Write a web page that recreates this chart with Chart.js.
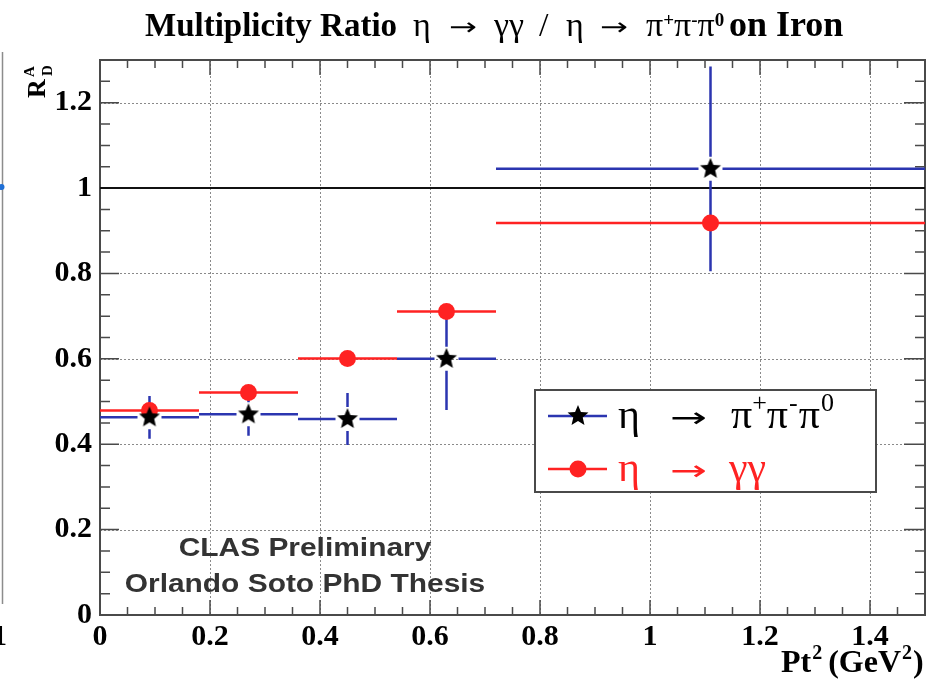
<!DOCTYPE html>
<html>
<head>
<meta charset="utf-8">
<script src="https://cdn.jsdelivr.net/npm/chart.js@4/dist/chart.umd.min.js"></script>
<style>
  html, body { margin: 0; padding: 0; background: #fff; }
  canvas { display: block; }
</style>
</head>
<body>
<canvas id="chart" width="933" height="683"></canvas>
<script>
// Pt^2 bins (GeV^2)
const binLow    = [0.00, 0.18, 0.36, 0.54, 0.72];
const binHigh   = [0.18, 0.36, 0.54, 0.72, 1.50];
const binCenter = [0.09, 0.27, 0.45, 0.63, 1.11];

// R_D^A for eta -> pi+ pi- pi0 (with statistical errors)
const ratio3pi = [0.463, 0.470, 0.459, 0.600, 1.045];
const err3pi   = [0.050, 0.050, 0.061, 0.120, 0.240];

// R_D^A for eta -> gamma gamma
const ratioGG  = [0.479, 0.521, 0.601, 0.711, 0.918];

// axis ticks
const xTickValues = [0, 0.2, 0.4, 0.6, 0.8, 1.0, 1.2, 1.4];
const xTickLabels = ['0', '0.2', '0.4', '0.6', '0.8', '1', '1.2', '1.4'];
const yTickValues = [0, 0.2, 0.4, 0.6, 0.8, 1.0, 1.2];
const yTickLabels = ['0', '0.2', '0.4', '0.6', '0.8', '1', '1.2'];

const BLUE = '#2b35b0';
const RED = '#ff2222';
const FRAME = '#4a4a4a';
const SERIF = '"Liberation Serif", "DejaVu Serif", serif';
const SANS = '"Liberation Sans", Arial, sans-serif';
const ARROW = '"DejaVu Sans", sans-serif';

// filled five-point star marker
function makeStar(r, color) {
  const s = Math.ceil(r * 2 + 4);
  const c = document.createElement('canvas');
  c.width = s; c.height = s;
  const g = c.getContext('2d');
  g.translate(s / 2, s / 2);
  g.beginPath();
  for (let i = 0; i < 10; i++) {
    const rr = i % 2 ? r * 0.45 : r;
    const a = -Math.PI / 2 + i * Math.PI / 5;
    g.lineTo(rr * Math.cos(a), rr * Math.sin(a));
  }
  g.closePath();
  g.fillStyle = color;
  g.fill();
  return c;
}
const starMarker = makeStar(11, '#000');

// draw a run of text pieces; a piece without x follows the previous one,
// a piece with w is stretched horizontally to that width
function drawPieces(ctx, baseY, pieces, color) {
  ctx.textAlign = 'left';
  ctx.textBaseline = 'alphabetic';
  let cur = 0;
  for (const p of pieces) {
    ctx.font = p.font;
    ctx.fillStyle = p.color || color;
    const x = (p.x !== undefined ? p.x : cur) + (p.dx || 0);
    const natural = ctx.measureText(p.t).width;
    if (p.w) {
      ctx.save();
      ctx.translate(x, baseY + (p.dy || 0));
      ctx.scale(p.w / natural, 1);
      ctx.fillText(p.t, 0, 0);
      ctx.restore();
      cur = x + p.w;
    } else {
      ctx.fillText(p.t, x, baseY + (p.dy || 0));
      cur = x + natural;
    }
  }
}

const framePlugin = {
  id: 'frameAndBars',
  beforeDatasetsDraw(chart) {
    const ctx = chart.ctx;
    const xs = chart.scales.x, ys = chart.scales.y;
    const a = chart.chartArea;
    ctx.save();

    // dotted grid at major ticks
    ctx.strokeStyle = '#8a8a8a';
    ctx.lineWidth = 1;
    ctx.setLineDash([2, 2]);
    for (const v of xTickValues) {
      const px = Math.round(xs.getPixelForValue(v)) + 0.5;
      if (px <= a.left + 1) continue;
      ctx.beginPath(); ctx.moveTo(px, a.top); ctx.lineTo(px, a.bottom); ctx.stroke();
    }
    for (const v of yTickValues) {
      const py = Math.round(ys.getPixelForValue(v)) + 0.5;
      if (py >= a.bottom - 1) continue;
      ctx.beginPath(); ctx.moveTo(a.left, py); ctx.lineTo(a.right, py); ctx.stroke();
    }
    ctx.setLineDash([]);

    // tick marks on all four sides (major every 0.2, minor every 0.05)
    ctx.strokeStyle = FRAME;
    ctx.lineWidth = 1.5;
    for (let k = 0; k <= 30; k++) {
      const v = k * 0.05;
      const major = k % 4 === 0;
      const px = xs.getPixelForValue(v);
      const L = major ? 15 : 8;
      ctx.beginPath();
      ctx.moveTo(px, a.bottom); ctx.lineTo(px, a.bottom - L);
      ctx.moveTo(px, a.top); ctx.lineTo(px, a.top + L);
      ctx.stroke();
    }
    for (let k = 0; k <= 26; k++) {
      const v = k * 0.05;
      const major = k % 4 === 0;
      const py = ys.getPixelForValue(v);
      ctx.beginPath();
      ctx.moveTo(a.left, py); ctx.lineTo(a.left + (major ? 19 : 10), py);
      ctx.moveTo(a.right, py); ctx.lineTo(a.right - (major ? 21 : 10), py);
      ctx.stroke();
    }

    // frame
    ctx.lineWidth = 2;
    ctx.strokeRect(a.left, a.top, a.right - a.left, a.bottom - a.top);

    // unity reference line
    const y1 = ys.getPixelForValue(1);
    ctx.strokeStyle = '#111';
    ctx.lineWidth = 2;
    ctx.beginPath(); ctx.moveTo(a.left, y1); ctx.lineTo(a.right, y1); ctx.stroke();

    // eta -> 3pi bars: bin width and error, open around the marker
    const gap = 12;
    ctx.strokeStyle = BLUE;
    ctx.lineWidth = 2.5;
    for (let i = 0; i < binCenter.length; i++) {
      const cx = xs.getPixelForValue(binCenter[i]);
      const cy = ys.getPixelForValue(ratio3pi[i]);
      const xl = xs.getPixelForValue(binLow[i]);
      const xh = xs.getPixelForValue(binHigh[i]);
      const yt = ys.getPixelForValue(ratio3pi[i] + err3pi[i]);
      const yb = ys.getPixelForValue(ratio3pi[i] - err3pi[i]);
      ctx.beginPath();
      ctx.moveTo(xl, cy); ctx.lineTo(cx - gap, cy);
      ctx.moveTo(cx + gap, cy); ctx.lineTo(xh, cy);
      if (cy - gap > yt) { ctx.moveTo(cx, yt); ctx.lineTo(cx, cy - gap); }
      if (cy + gap < yb) { ctx.moveTo(cx, cy + gap); ctx.lineTo(cx, yb); }
      ctx.stroke();
    }

    // eta -> gamma gamma bars: bin width
    ctx.strokeStyle = RED;
    ctx.lineWidth = 2.5;
    for (let i = 0; i < binCenter.length; i++) {
      const cy = ys.getPixelForValue(ratioGG[i]);
      ctx.beginPath();
      ctx.moveTo(xs.getPixelForValue(binLow[i]), cy);
      ctx.lineTo(xs.getPixelForValue(binHigh[i]), cy);
      ctx.stroke();
    }
    ctx.restore();
  },
  afterDatasetsDraw(chart) {
    const ctx = chart.ctx;
    ctx.save();

    // legend box
    const bx = 535, by = 390, bw = 341, bh = 102;
    ctx.fillStyle = '#fff';
    ctx.fillRect(bx, by, bw, bh);
    ctx.strokeStyle = FRAME;
    ctx.lineWidth = 2;
    ctx.strokeRect(bx, by, bw, bh);

    const r1 = 416, r2 = 469;
    ctx.lineWidth = 2.5;
    ctx.strokeStyle = BLUE;
    ctx.beginPath(); ctx.moveTo(548, r1); ctx.lineTo(607, r1); ctx.stroke();
    ctx.drawImage(starMarker, 578 - starMarker.width / 2, r1 - starMarker.height / 2);
    ctx.strokeStyle = RED;
    ctx.beginPath(); ctx.moveTo(548, r2); ctx.lineTo(607, r2); ctx.stroke();
    ctx.fillStyle = RED;
    ctx.beginPath(); ctx.arc(578, r2, 8.5, 0, Math.PI * 2); ctx.fill();

    const gf = '42px ' + SERIF, af = '28px ' + ARROW, sf = '26px ' + SERIF;
    drawPieces(ctx, r1 + 12, [
      { t: '\u03B7', x: 618, font: gf },
      { t: '\u2192', x: 670, font: af, w: 37, dy: -1 },
      { t: '\u03C0', x: 731, font: gf },
      { t: '+', font: sf, dy: -17 },
      { t: '\u03C0', font: gf },
      { t: '-', font: sf, dy: -17, dx: 1 },
      { t: '\u03C0', font: gf, dx: 1 },
      { t: '0', font: sf, dy: -17, dx: 1 }
    ], '#000');
    drawPieces(ctx, r2 + 12, [
      { t: '\u03B7', x: 618, font: gf },
      { t: '\u2192', x: 670, font: af, w: 37, dy: -1 },
      { t: '\u03B3\u03B3', x: 729, font: gf }
    ], RED);

    // preliminary label
    ctx.fillStyle = '#333';
    ctx.font = 'bold 26px ' + SANS;
    ctx.textAlign = 'center';
    ctx.textBaseline = 'alphabetic';
    ctx.save(); ctx.translate(305, 556); ctx.scale(1.15, 1); ctx.fillText('CLAS Preliminary', 0, 0); ctx.restore();
    ctx.save(); ctx.translate(305, 592); ctx.scale(1.15, 1); ctx.fillText('Orlando Soto PhD Thesis', 0, 0); ctx.restore();

    ctx.restore();
  },
  afterDraw(chart) {
    const ctx = chart.ctx;
    ctx.save();

    // title
    const tb = 'bold 33px ' + SERIF, tg = '34px ' + SERIF, ta = '24px ' + ARROW, ts = 'bold 19px ' + SERIF;
    drawPieces(ctx, 36, [
      { t: 'Multiplicity Ratio', x: 145, font: tb },
      { t: '\u03B7', x: 413, font: tg },
      { t: '\u2192', x: 449, font: ta, w: 28, dy: -1 },
      { t: '\u03B3\u03B3', x: 494, font: tg },
      { t: '/', x: 539, font: tg },
      { t: '\u03B7', x: 566, font: tg },
      { t: '\u2192', x: 600, font: ta, w: 28, dy: -1 },
      { t: '\u03C0', x: 646, font: tg },
      { t: '+', font: ts, dy: -10 },
      { t: '\u03C0', font: tg },
      { t: '-', font: ts, dy: -10 },
      { t: '\u03C0', font: tg },
      { t: '0', font: ts, dy: -10 },
      { t: 'on Iron', x: 729, font: 'bold 36px ' + SERIF }
    ], '#000');

    // x axis title
    const xb = 'bold 32px ' + SERIF, xsup = 'bold 20px ' + SERIF;
    drawPieces(ctx, 672, [
      { t: 'Pt', x: 781, font: xb },
      { t: '2', font: xsup, dy: -13, dx: 1 },
      { t: '(GeV', font: xb, dx: 6 },
      { t: '2', font: xsup, dy: -13, dx: 1 },
      { t: ')', font: xb, dx: 1 }
    ], '#000');

    // y axis title R_D^A, rotated
    ctx.save();
    ctx.translate(45, 98);
    ctx.rotate(-Math.PI / 2);
    drawPieces(ctx, 0, [
      { t: 'R', x: 0, font: 'bold 26px ' + SERIF },
      { t: 'A', x: 21, font: 'bold 15px ' + SERIF, dy: -11 },
      { t: 'D', x: 22, font: 'bold 15px ' + SERIF, dy: 7 }
    ], '#000');
    ctx.restore();

    // edge of the neighbouring panel
    ctx.strokeStyle = '#8c8c8c';
    ctx.lineWidth = 1.5;
    ctx.beginPath(); ctx.moveTo(2.5, 52); ctx.lineTo(2.5, 604); ctx.stroke();
    ctx.fillStyle = '#1f6fd6';
    ctx.beginPath(); ctx.arc(1.5, 187, 3, 0, Math.PI * 2); ctx.fill();
    ctx.fillStyle = '#000';
    ctx.font = 'bold 30px ' + SERIF;
    ctx.textAlign = 'left';
    ctx.fillText('1', -8, 645);

    ctx.restore();
  }
};

const chart = new Chart(document.getElementById('chart'), {
  type: 'scatter',
  data: {
    datasets: [
      {
        label: '\u03B7 \u2192 \u03C0+\u03C0-\u03C00',
        data: binCenter.map((x, i) => ({ x, y: ratio3pi[i] })),
        pointStyle: starMarker,
        pointRadius: 11,
        showLine: false
      },
      {
        label: '\u03B7 \u2192 \u03B3\u03B3',
        data: binCenter.map((x, i) => ({ x, y: ratioGG[i] })),
        pointStyle: 'circle',
        pointRadius: 8.5,
        backgroundColor: RED,
        borderWidth: 0,
        showLine: false
      }
    ]
  },
  options: {
    responsive: false,
    devicePixelRatio: 1,
    animation: false,
    layout: { autoPadding: false, padding: { top: 60, right: 8, bottom: 0, left: 0 } },
    plugins: { legend: { display: false }, tooltip: { enabled: false }, title: { display: false } },
    scales: {
      x: {
        type: 'linear',
        min: 0, max: 1.5,
        afterBuildTicks: s => { s.ticks = xTickValues.map(v => ({ value: v })); },
        afterFit: s => { s.height = 68; s.paddingLeft = 0; s.paddingRight = 0; },
        grid: { display: false, drawTicks: false },
        border: { display: false },
        ticks: {
          autoSkip: false, maxRotation: 0, padding: 4,
          color: '#000',
          font: { family: SERIF, size: 30, weight: 'bold' },
          callback: (v, i) => xTickLabels[i]
        }
      },
      y: {
        type: 'linear',
        min: 0, max: 1.3,
        afterBuildTicks: s => { s.ticks = yTickValues.map(v => ({ value: v })); },
        afterFit: s => { s.width = 100; s.paddingTop = 0; s.paddingBottom = 0; },
        grid: { display: false, drawTicks: false },
        border: { display: false },
        ticks: {
          autoSkip: false, padding: 8,
          color: '#000',
          font: { family: SERIF, size: 30, weight: 'bold' },
          callback: (v, i) => yTickLabels[i]
        }
      }
    }
  },
  plugins: [framePlugin]
});
</script>
</body>
</html>
